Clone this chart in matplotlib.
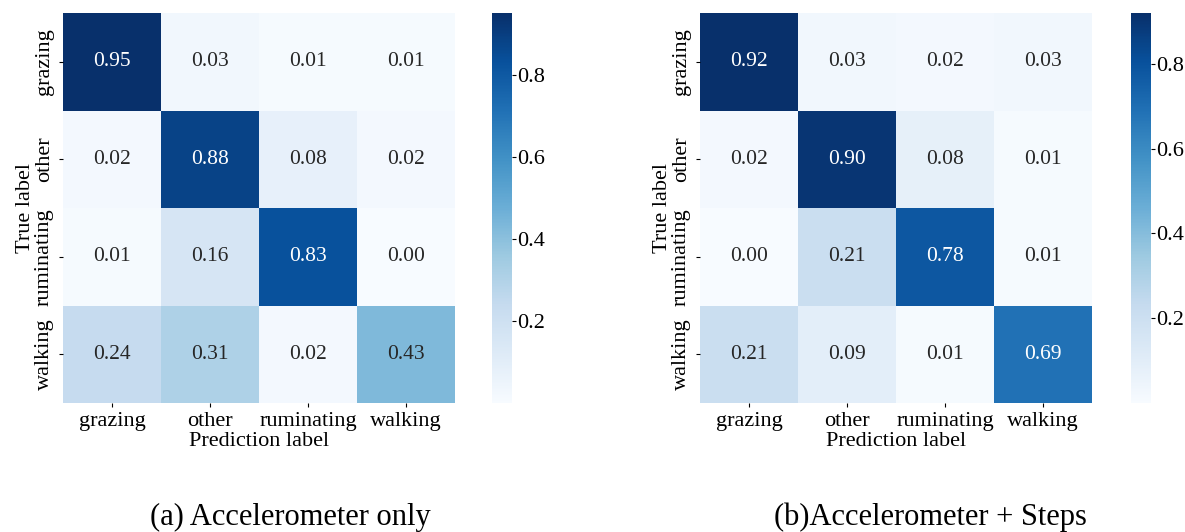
import matplotlib
matplotlib.use("Agg")
import matplotlib.pyplot as plt
import seaborn as sns
import numpy as np

labels = ['grazing', 'other', 'ruminating', 'walking']

# confusion matrices (row = true, col = predicted), normalized
cm_acc = [[0.95, 0.03, 0.01, 0.01],
          [0.02, 0.88, 0.08, 0.02],
          [0.01, 0.16, 0.83, 0.00],
          [0.24, 0.31, 0.02, 0.43]]
cm_acc_steps = [[0.92, 0.03, 0.02, 0.03],
                [0.02, 0.90, 0.08, 0.01],
                [0.00, 0.21, 0.78, 0.01],
                [0.21, 0.09, 0.01, 0.69]]
captions = ['(a) Accelerometer only', '(b)Accelerometer + Steps']

plt.rcParams['font.family'] = ['Liberation Serif', 'DejaVu Serif']

fig = plt.figure(figsize=(11.85, 5.32), dpi=100)
W, H = 1185.0, 532.0

def ax_at(x0, y0, x1, y1):
    return fig.add_axes([x0 / W, 1 - y1 / H, (x1 - x0) / W, (y1 - y0) / H])

panels = [((63, 13, 455, 403), (492, 13, 512, 403), 290),
          ((700, 13, 1092, 403), (1131, 13, 1151, 403), 930)]

for cm, cap, (hm, cb, cx) in zip([cm_acc, cm_acc_steps], captions, panels):
    ax = ax_at(*hm)
    cax = ax_at(*cb)
    data = np.array(cm)
    sns.heatmap(data, annot=True, fmt='.2f', cmap='Blues', ax=ax, cbar_ax=cax,
                xticklabels=labels, yticklabels=labels,
                vmin=data.min(), vmax=data.max(),
                annot_kws={'fontsize': 15.5})
    ax.tick_params(axis='both', labelsize=16, length=3)
    ax.set_yticklabels(labels, rotation=90, va='center')
    ax.set_xlabel('Prediction label', fontsize=16, labelpad=1)
    ax.set_ylabel('True label', fontsize=16, labelpad=0)
    cax.tick_params(labelsize=16, length=3, pad=1)
    cax.set_yticks([0.2, 0.4, 0.6, 0.8])
    for s in cax.spines.values():
        s.set_visible(False)
    fig.text(cx / W, 1 - 517 / H, cap, fontsize=22, ha='center', va='center')

fig.savefig('out.png', dpi=100)
